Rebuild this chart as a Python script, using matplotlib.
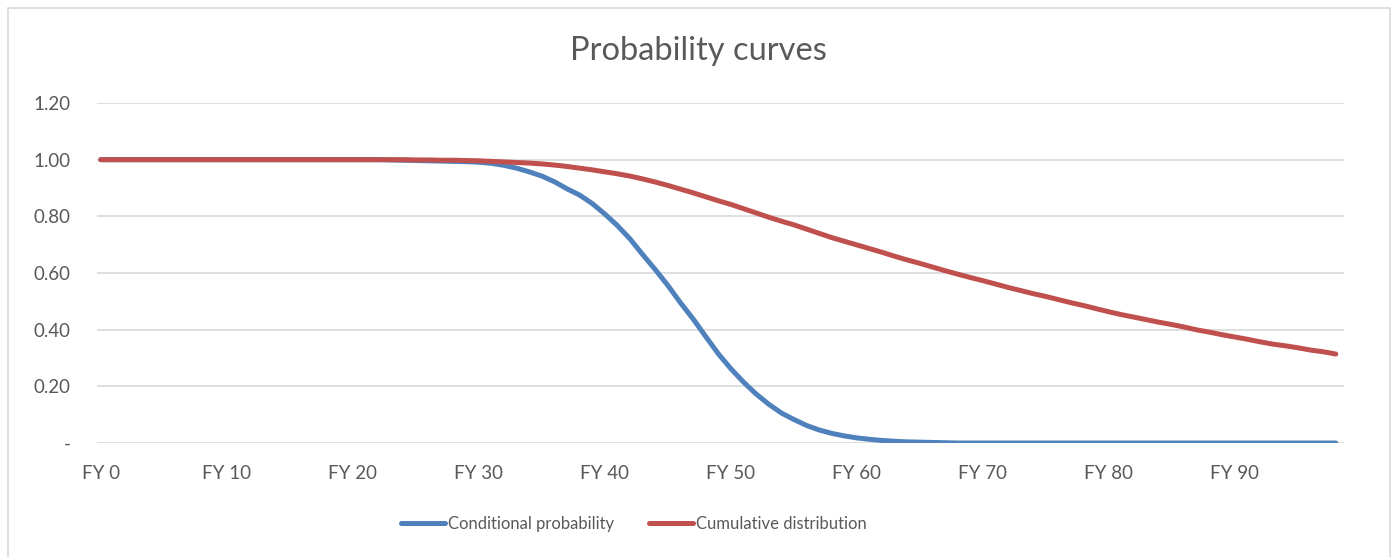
import matplotlib
matplotlib.use("Agg")
import matplotlib.pyplot as plt
from matplotlib.patches import Rectangle
from matplotlib.ticker import FixedLocator, FuncFormatter

plt.rcParams['font.family'] = ['Lato', 'DejaVu Sans']

years = list(range(0, 99))
year_labels = [f"FY {y}" for y in years]

conditional_probability = [
    1.000, 1.000, 1.000, 1.000, 1.000, 1.000, 1.000, 1.000, 1.000, 1.000,
    1.000, 1.000, 1.000, 1.000, 1.000, 1.000, 1.000, 1.000, 1.000, 1.000,
    1.000, 1.000, 1.000, 0.999, 0.998, 0.997, 0.996, 0.995, 0.994, 0.993,
    0.991, 0.987, 0.980, 0.970, 0.957, 0.942, 0.922, 0.897, 0.875, 0.845,
    0.808, 0.767, 0.720, 0.665, 0.612, 0.556, 0.495, 0.438, 0.376, 0.315,
    0.262, 0.215, 0.173, 0.137, 0.106, 0.083, 0.062, 0.046, 0.034, 0.025,
    0.018, 0.013, 0.009, 0.006, 0.004, 0.003, 0.002, 0.001, 0.000, 0.000,
    0.000, 0.000, 0.000, 0.000, 0.000, 0.000, 0.000, 0.000, 0.000, 0.000,
    0.000, 0.000, 0.000, 0.000, 0.000, 0.000, 0.000, 0.000, 0.000, 0.000,
    0.000, 0.000, 0.000, 0.000, 0.000, 0.000, 0.000, 0.000, 0.000,
]

cumulative_distribution = [
    1.000, 1.000, 1.000, 1.000, 1.000, 1.000, 1.000, 1.000, 1.000, 1.000,
    1.000, 1.000, 1.000, 1.000, 1.000, 1.000, 1.000, 1.000, 1.000, 1.000,
    1.000, 1.000, 1.000, 1.000, 1.000, 0.999, 0.999, 0.998, 0.998, 0.997,
    0.996, 0.994, 0.992, 0.990, 0.988, 0.985, 0.981, 0.976, 0.970, 0.964,
    0.957, 0.950, 0.942, 0.932, 0.921, 0.909, 0.896, 0.883, 0.869, 0.855,
    0.842, 0.827, 0.812, 0.797, 0.783, 0.770, 0.755, 0.740, 0.725, 0.712,
    0.699, 0.686, 0.673, 0.659, 0.646, 0.634, 0.621, 0.608, 0.596, 0.584,
    0.573, 0.561, 0.549, 0.538, 0.527, 0.517, 0.506, 0.495, 0.485, 0.474,
    0.463, 0.453, 0.444, 0.435, 0.426, 0.418, 0.409, 0.399, 0.391, 0.382,
    0.374, 0.366, 0.357, 0.349, 0.343, 0.336, 0.328, 0.322, 0.314,
]

y_ticks = [0.0, 0.2, 0.4, 0.6, 0.8, 1.0, 1.2]

W, H = 1392, 557
fig = plt.figure(figsize=(W / 100, H / 100), dpi=100)
fig.patch.set_facecolor('white')

# chart border (bottom edge lies below the visible area)
fig.add_artist(Rectangle((8 / W, -0.05), (1390 - 8) / W, 1 - 8 / H + 0.05,
                         transform=fig.transFigure, fill=False,
                         edgecolor='#d9d9d9', linewidth=1.2))

ax = fig.add_axes([97 / W, 1 - 443 / H, (1344 - 97) / W, (443 - 103) / H])
ax.set_facecolor('white')

tick_color = '#595959'
ax.plot(years, conditional_probability, color='#4F81BD', lw=3.6,
        solid_capstyle='round', label='Conditional probability', zorder=3)
ax.plot(years, cumulative_distribution, color='#C0504D', lw=3.6,
        solid_capstyle='round', label='Cumulative distribution', zorder=4)

ax.set_xlim(-0.3, 98.65)
ax.set_ylim(0, 1.2)
ax.yaxis.set_major_locator(FixedLocator(y_ticks))
ax.yaxis.set_major_formatter(FuncFormatter(lambda v, p: '-' if abs(v) < 1e-9 else f"{v:.2f}"))
ax.set_xticks(years[::10])
ax.set_xticklabels(year_labels[::10])

ax.grid(axis='y', color='#d9d9d9', linewidth=1.2)
ax.set_axisbelow(True)
for s in ax.spines.values():
    s.set_visible(False)
ax.tick_params(axis='both', length=0, colors=tick_color, labelsize=13.5)
ax.tick_params(axis='x', pad=16)
ax.tick_params(axis='y', pad=19)

fig.text(698 / W, 1 - 51 / H, 'Probability curves', ha='center', va='center',
         fontsize=23.5, color='#595959')

leg = fig.legend(loc='center', bbox_to_anchor=(634 / W, 1 - 524 / H), ncol=2,
                 frameon=False, fontsize=12.0, handlelength=2.6,
                 handletextpad=0.2, columnspacing=2.1)
for t in leg.get_texts():
    t.set_color(tick_color)

fig.savefig('out.png', dpi=100, facecolor='white')
